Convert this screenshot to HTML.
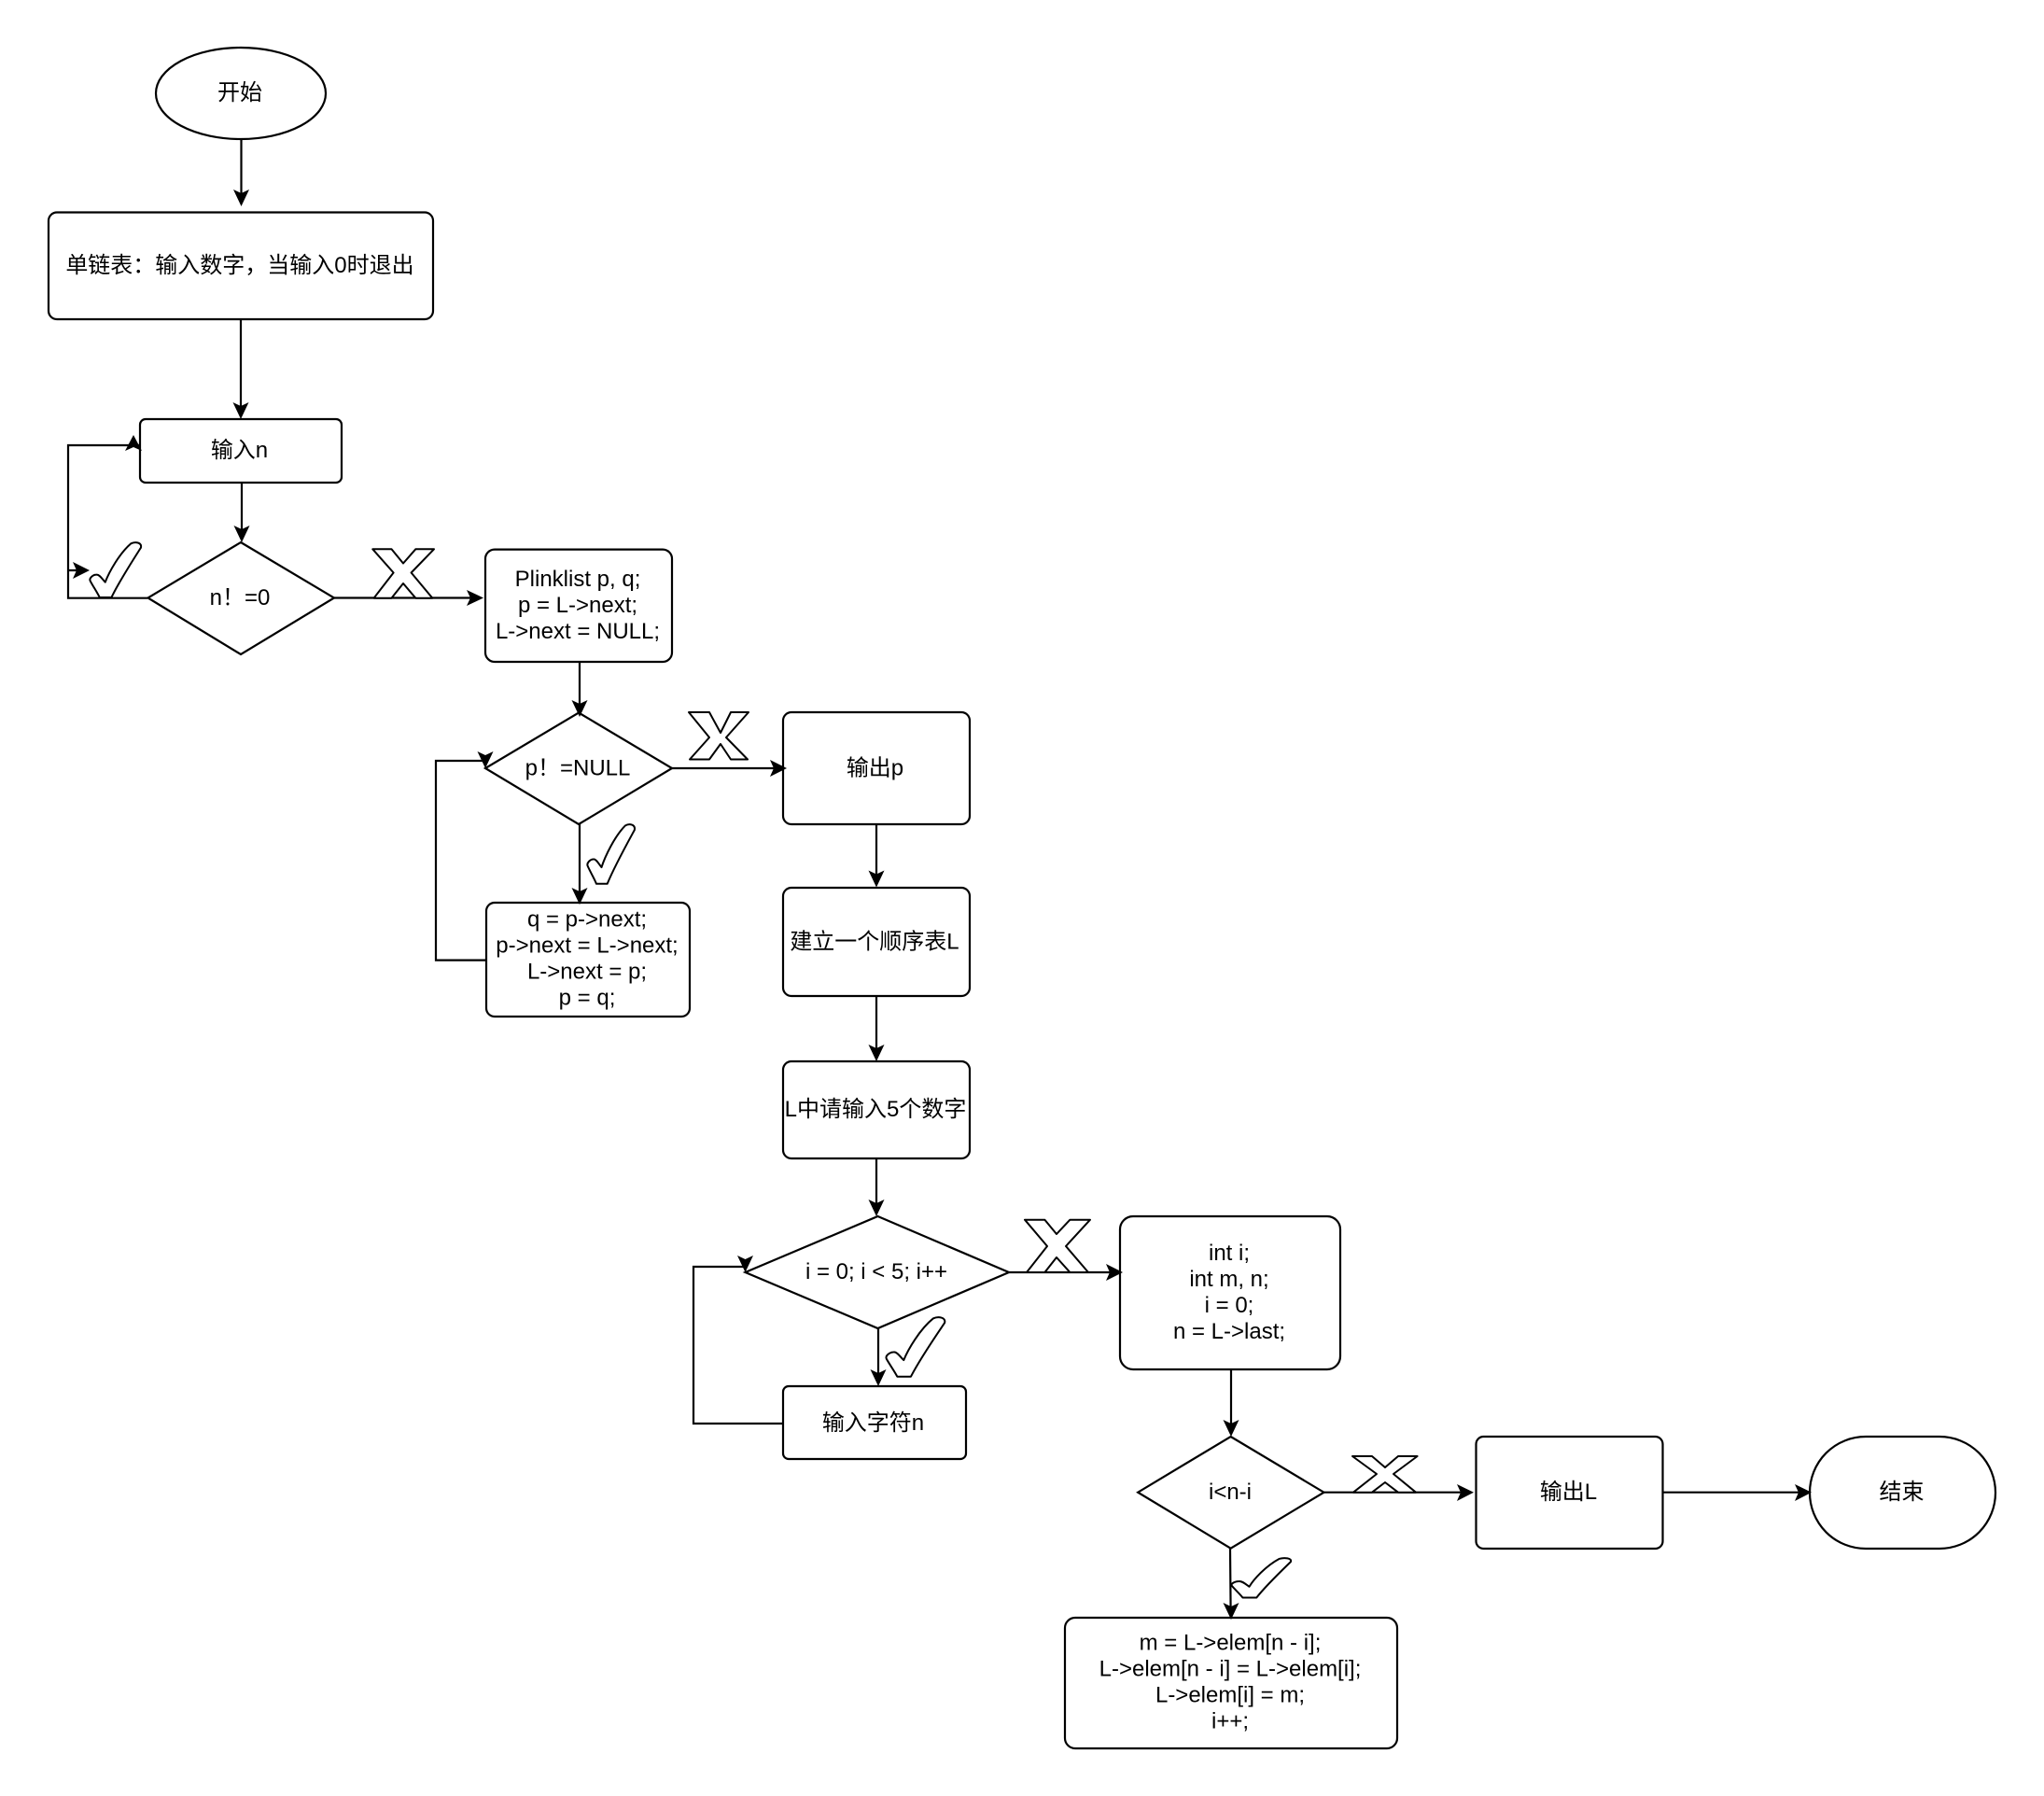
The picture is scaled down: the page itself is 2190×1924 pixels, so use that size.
<!DOCTYPE html>
<html><head><meta charset="utf-8"><style>
html,body{margin:0;padding:0;background:#fff}
svg{display:block}
text{font-family:"Liberation Sans","Noto Sans CJK SC",sans-serif;font-size:24px;fill:#000;text-anchor:middle}
.s{fill:#fff;stroke:#000;stroke-width:2.2}
.l{fill:none;stroke:#000;stroke-width:2.2}
.c{fill:#fff;stroke:#000;stroke-width:2;vector-effect:non-scaling-stroke;stroke-linejoin:round}
.h{fill:#000;stroke:none}
</style></head><body>
<svg width="2190" height="1924" viewBox="0 0 2190 1924" xmlns="http://www.w3.org/2000/svg">
<rect width="2190" height="1924" fill="#fff"/>

<!-- connectors -->
<path class="l" d="M258.500 149V215M258 342V440M259 517V575M158 640.700H73V477H150M73 611H84"/>
<path class="l" d="M358 640.500H510M621 709V760M720 823H832M621 883V960M939 883V944M939 1067V1130M939 1241V1296"/>
<path class="l" d="M521 1028.600H467V815H520V810M1081 1363H1194M941 1423V1478M839 1525H743V1357H798V1350M1319 1467V1532"/>
<path class="l" d="M1418 1598.700H1572M1782 1598.700H1934M1318 1659L1318.600 1725"/>

<!-- shapes -->
<ellipse class="s" cx="258" cy="100" rx="91" ry="49"/>
<rect class="s" x="52" y="227.500" width="412" height="114.500" rx="9"/>
<rect class="s" x="150" y="449" width="216" height="68" rx="6"/>
<path class="s" d="M258 581L358 640.500L258 701L158.500 640.500Z"/>
<rect class="s" x="520" y="588.600" width="200" height="120.400" rx="10"/>
<path class="s" d="M620 763.500L720 823L620 883L520 823Z"/>
<rect class="s" x="839" y="763" width="200" height="120" rx="9"/>
<rect class="s" x="521" y="967" width="218" height="122" rx="9"/>
<rect class="s" x="839" y="951" width="200" height="116" rx="9"/>
<rect class="s" x="839" y="1137" width="200" height="104" rx="9"/>
<path class="s" d="M940.500 1303L1081 1363L940.500 1423L798.500 1363Z"/>
<rect class="s" x="839" y="1485" width="196" height="78" rx="6"/>
<rect class="s" x="1200" y="1303" width="236" height="164" rx="14"/>
<path class="s" d="M1318.600 1539L1418.500 1598.700L1318.600 1658.700L1219.200 1598.700Z"/>
<rect class="s" x="1581.500" y="1539" width="200" height="120" rx="8"/>
<rect class="s" x="1939" y="1539" width="199" height="120" rx="60"/>
<rect class="s" x="1141" y="1733" width="356" height="140" rx="11"/>

<!-- arrowheads -->
<g class="h">
<path d="M258.500 221L250 203L258.500 207L267 203Z"/>
<path d="M258 449L249.500 431L258 435L266.500 431Z"/>
<path d="M259 581L250.500 563L259 567L267.500 563Z"/>
<path d="M143 466L134 483L143 479L152 483Z"/>
<path d="M96 611L78 602L82 611L78 620Z"/>
<path d="M518 640.500L500 632L504 640.500L500 649Z"/>
<path d="M621 768L612.500 750L621 754L629.500 750Z"/>
<path d="M843 823L825 814L829 823L825 832Z"/>
<path d="M621 969L612.500 951L621 955L629.500 951Z"/>
<path d="M520 823L511.500 805L520 809L528.500 805Z"/>
<path d="M939 950.500L930.500 932.500L939 936.500L947.500 932.500Z"/>
<path d="M939 1137L930.500 1119L939 1123L947.500 1119Z"/>
<path d="M939 1303L930.500 1285L939 1289L947.500 1285Z"/>
<path d="M1203 1363L1185 1354L1189 1363L1185 1372Z"/>
<path d="M941 1485L932.500 1467L941 1471L949.500 1467Z"/>
<path d="M798.500 1363L790 1345L798.500 1349L807 1345Z"/>
<path d="M1319 1539L1310.500 1521L1319 1525L1327.500 1521Z"/>
<path d="M1579 1598.700L1561 1590L1565 1598.700L1561 1608Z"/>
<path d="M1941 1598.700L1923 1590L1927 1598.700L1923 1608Z"/>
<path d="M1319 1735L1310.500 1717L1319 1721L1327.500 1717Z"/>
</g>

<!-- cross marks -->
<path class="c" d="M399.300 588.300H419.500L432 603.500L445.300 588.300H465L440.600 613.500L463.300 640.700H445.300L432 625L419.500 640.700H400.600L421.600 613.500Z"/>
<path class="c" d="M738 763H760L772 785L783 763H802L778 790L801 813.500H783L772 797L760 813.500H739L760 790Z"/>
<path class="c" d="M1098 1306.700H1119.400L1132 1322L1146.400 1306.700H1168L1142 1335L1166 1363H1146.400L1132 1347L1119.400 1363H1100L1122 1335Z"/>
<path class="c" d="M1449 1560H1470L1484 1572L1498 1560H1518.600L1493 1579L1517 1598.700H1498L1484 1588L1470 1598.700H1450L1475 1579Z"/>

<!-- check marks -->
<path class="c" transform="translate(96 581) scale(.335 .333)" d="M2 124C-2 116 10 104 22 104C32 103 40 118 50 128C62 96 95 36 132 4C146 -3 168 0 164 17C140 55 95 125 70 177L32 177C24 160 10 140 2 124Z"/>
<path class="c" transform="translate(629 883) scale(.31 .36)" d="M2 124C-2 116 10 104 22 104C32 103 40 118 50 128C62 96 95 36 132 4C146 -3 168 0 164 17C140 55 95 125 70 177L32 177C24 160 10 140 2 124Z"/>
<path class="c" transform="translate(949 1411) scale(.385 .36)" d="M2 124C-2 116 10 104 22 104C32 103 40 118 50 128C62 96 95 36 132 4C146 -3 168 0 164 17C140 55 95 125 70 177L32 177C24 160 10 140 2 124Z"/>
<path class="c" transform="translate(1319 1669) scale(.39 .24)" d="M2 124C-2 116 10 104 22 104C32 103 40 118 50 128C62 96 95 36 132 4C146 -3 168 0 164 17C140 55 95 125 70 177L32 177C24 160 10 140 2 124Z"/>

<!-- labels -->
<text x="257" y="107">开始</text>
<text x="257" y="292">单链表：输入数字，当输入0时退出</text>
<text x="256.500" y="490">输入n</text>
<text x="257" y="648">n！=0</text>
<text x="619" y="628">Plinklist p, q;</text>
<text x="619" y="656">p = L-&gt;next;</text>
<text x="619" y="684">L-&gt;next = NULL;</text>
<text x="619" y="830.500">p！=NULL</text>
<text x="937.500" y="830.500">输出p</text>
<text x="629" y="992.500">q = p-&gt;next;</text>
<text x="629" y="1020.500">p-&gt;next = L-&gt;next;</text>
<text x="629" y="1048.500">L-&gt;next = p;</text>
<text x="629" y="1076.500">p = q;</text>
<text x="937" y="1016.500">建立一个顺序表L</text>
<text x="938" y="1196">L中请输入5个数字</text>
<text x="939" y="1370">i = 0; i &lt; 5; i++</text>
<text x="935.500" y="1532">输入字符n</text>
<text x="1317" y="1350">int i;</text>
<text x="1317" y="1378">int m, n;</text>
<text x="1317" y="1406">i = 0;</text>
<text x="1317" y="1434">n = L-&gt;last;</text>
<text x="1318" y="1606">i&lt;n-i</text>
<text x="1680.500" y="1606">输出L</text>
<text x="2037.500" y="1606">结束</text>
<text x="1318" y="1767.500">m = L-&gt;elem[n - i];</text>
<text x="1318" y="1795.500">L-&gt;elem[n - i] = L-&gt;elem[i];</text>
<text x="1318" y="1823.500">L-&gt;elem[i] = m;</text>
<text x="1318" y="1851.500">i++;</text>
</svg>
</body></html>
